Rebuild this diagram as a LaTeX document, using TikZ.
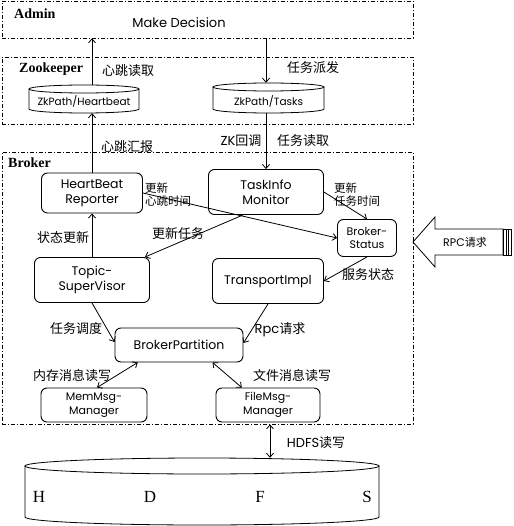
\documentclass[tikz,border=0pt]{standalone}
\usepackage{fontspec}
\setmainfont{Poppins}
\newfontfamily\cjk{Noto Sans CJK SC}
\newfontfamily\ser{Liberation Serif}
\usetikzlibrary{arrows.meta,calc}
\begin{document}
\begin{tikzpicture}[x=1pt,y=-1pt,
 grp/.style={draw, line width=0.7pt, dash pattern=on 4pt off 2pt on 1pt off 2pt, inner sep=0pt},
 box/.style={draw, line width=0.9pt, rounded corners=6pt, align=center, font=\fontsize{12.5}{15}\selectfont, inner sep=0pt},
 sbox/.style={box, font=\fontsize{11}{13.5}\selectfont},
 lbl/.style={font=\fontsize{13}{15}\selectfont\cjk, inner sep=0pt},
 slbl/.style={font=\fontsize{11.5}{13}\selectfont\cjk, inner sep=0pt, align=left, anchor=north west},
 ttl/.style={font=\fontsize{14}{16}\selectfont\ser\bfseries, inner sep=0pt, anchor=west},
 arr/.style={line width=0.8pt, -{Straight Barb[length=4pt,width=7pt]}},
 darr/.style={line width=0.8pt, {Straight Barb[length=4pt,width=7pt]}-{Straight Barb[length=4pt,width=7pt]}},
 cyl/.style={line width=0.8pt},
 hl/.style={font=\fontsize{17}{19}\selectfont\ser, inner sep=0pt}
]
\useasboundingbox (0,0) rectangle (513,526);
% groups
\node[grp, minimum width=411pt, minimum height=37pt] (admin) at (207.5,19.5) {};
\node[grp, minimum width=411pt, minimum height=67pt] (zk) at (207.5,90.5) {};
\node[grp, minimum width=411pt, minimum height=272pt] (broker) at (207.5,288) {};
\node[ttl] (tadmin) at (14,14) {Admin};
\node[ttl] (tzk) at (19,69) {Zookeeper};
\node[ttl] (tbroker) at (8,163) {Broker};
\node[font=\fontsize{13}{15}\selectfont, inner sep=0pt] (md) at (179,23) {Make Decision};

% zookeeper cylinders
\draw[cyl] (84,89) ellipse[x radius=55pt, y radius=4pt];
\draw[cyl] (29,89) -- (29,109) arc[start angle=180, end angle=360, x radius=55pt, y radius=4pt] -- (139,89);
\node[minimum width=110pt, minimum height=28pt, inner sep=0pt, font=\fontsize{10.5}{12}\selectfont] (zh) at (84,99) {};
\node[font=\fontsize{10.5}{12}\selectfont, inner sep=0pt] (zht) at (84,101) {ZkPath/Heartbeat};
\draw[cyl] (268.5,87) ellipse[x radius=55.5pt, y radius=4pt];
\draw[cyl] (213,87) -- (213,109) arc[start angle=180, end angle=360, x radius=55.5pt, y radius=4pt] -- (324,87);
\node[minimum width=111pt, minimum height=30pt, inner sep=0pt] (zt) at (268.5,98) {};
\node[font=\fontsize{10.5}{12}\selectfont, inner sep=0pt] (ztt) at (268.5,101) {ZkPath/Tasks};

% broker boxes
\node[box, minimum width=101pt, minimum height=40pt] (hb) at (92,193) {HeartBeat\\Reporter};
\node[box, minimum width=115pt, minimum height=45pt] (tim) at (266,192) {TaskInfo\\Monitor};
\node[sbox, minimum width=59pt, minimum height=37pt] (bs) at (367,238) {Broker-\\Status};
\node[box, minimum width=115pt, minimum height=45pt] (ts) at (92,280) {Topic-\\SuperVisor};
\node[box, minimum width=111pt, minimum height=45pt] (tp) at (268,281) {TransportImpl};
\node[box, minimum width=128pt, minimum height=34pt] (bp) at (179,345) {BrokerPartition};
\node[sbox, minimum width=106pt, minimum height=34pt] (mm) at (94,405) {MemMsg-\\Manager};
\node[sbox, minimum width=104pt, minimum height=34pt] (fm) at (268,405) {FileMsg-\\Manager};

% HDFS cylinder
\draw[cyl] (202,466) ellipse[x radius=177pt, y radius=8pt];
\draw[cyl] (25,466) -- (25,517) arc[start angle=180, end angle=360, x radius=177pt, y radius=8pt] -- (379,466);
\node[minimum width=354pt, minimum height=67pt, inner sep=0pt] (hdfs) at (202,491.5) {};
\node[hl] (lh) at (39,497) {H};
\node[hl] (ld) at (150,497) {D};
\node[hl] (lf) at (260,497) {F};
\node[hl] (ls) at (367,497) {S};

% RPC block arrow
\draw[line width=0.8pt] (413,242) -- (435,217) -- (435,229) -- (503,229) -- (503,255) -- (435,255) -- (435,267) -- cycle;
\draw[line width=0.8pt] (503,229) rectangle (511,255);
\draw[line width=0.6pt] (506,229) -- (506,255);
\draw[line width=0.6pt] (508.5,229) -- (508.5,255);
\node[font=\fontsize{11}{13}\selectfont, inner sep=0pt] (rpc) at (465,242) {RPC{\cjk 请求}};

% connectors
\draw[arr] (zh.north -| hb.north) -- (admin.south -| hb.north);
\draw[arr] (admin.south -| tim.north) -- (zt.north -| tim.north);
\draw[arr] (hb.north) -- (zh.south -| hb.north);
\draw[arr] (zt.south -| tim.north) -- (tim.north);
\draw[arr] (ts.north) -- (hb.south);
\draw[arr] ($(tim.south)+(-23,0)$) -- ($(ts.north east)+(-5,0)$);
\draw[arr] (hb.east) -- (bs.west);
\draw[arr] (tim.east) -- (bs.north);
\draw[arr] (bs.south) -- (tp.east);
\draw[arr] (ts.south) -- ([yshift=3pt]bp.west);
\draw[arr] (tp.south) -- ([yshift=2pt]bp.east);
\draw[darr] ($(bp.south west)!0.18!(bp.south east)$) -- ([xshift=3pt]mm.north);
\draw[darr] ($(bp.south west)!0.76!(bp.south east)$) -- ($(fm.north west)!0.25!(fm.north east)$);
\draw[darr] (broker.south -| 270,0) -- (hdfs.north -| 270,0);

% labels
\node[lbl] (l1) at (128,71) {心跳读取};
\node[lbl] (l2) at (313,68) {任务派发};
\node[lbl] (l3) at (127,147) {心跳汇报};
\node[lbl] (l4) at (241,141) {{\rmfamily ZK}回调};
\node[lbl] (l5) at (303,141) {任务读取};
\node[slbl] (l6) at (145,183) {更新\\心跳时间};
\node[slbl] (l7) at (334,183) {更新\\任务时间};
\node[lbl] (l8) at (63,238) {状态更新};
\node[lbl] (l9) at (178,234) {更新任务};
\node[lbl] (l10) at (368,275) {服务状态};
\node[lbl] (l11) at (76,329) {任务调度};
\node[lbl] (l12) at (280,330) {{\rmfamily Rpc}请求};
\node[lbl] (l13) at (72,376) {内存消息读写};
\node[lbl] (l14) at (292,376) {文件消息读写};
\node[lbl] (l15) at (316,443) {{\rmfamily HDFS}读写};
\end{tikzpicture}
\end{document}
